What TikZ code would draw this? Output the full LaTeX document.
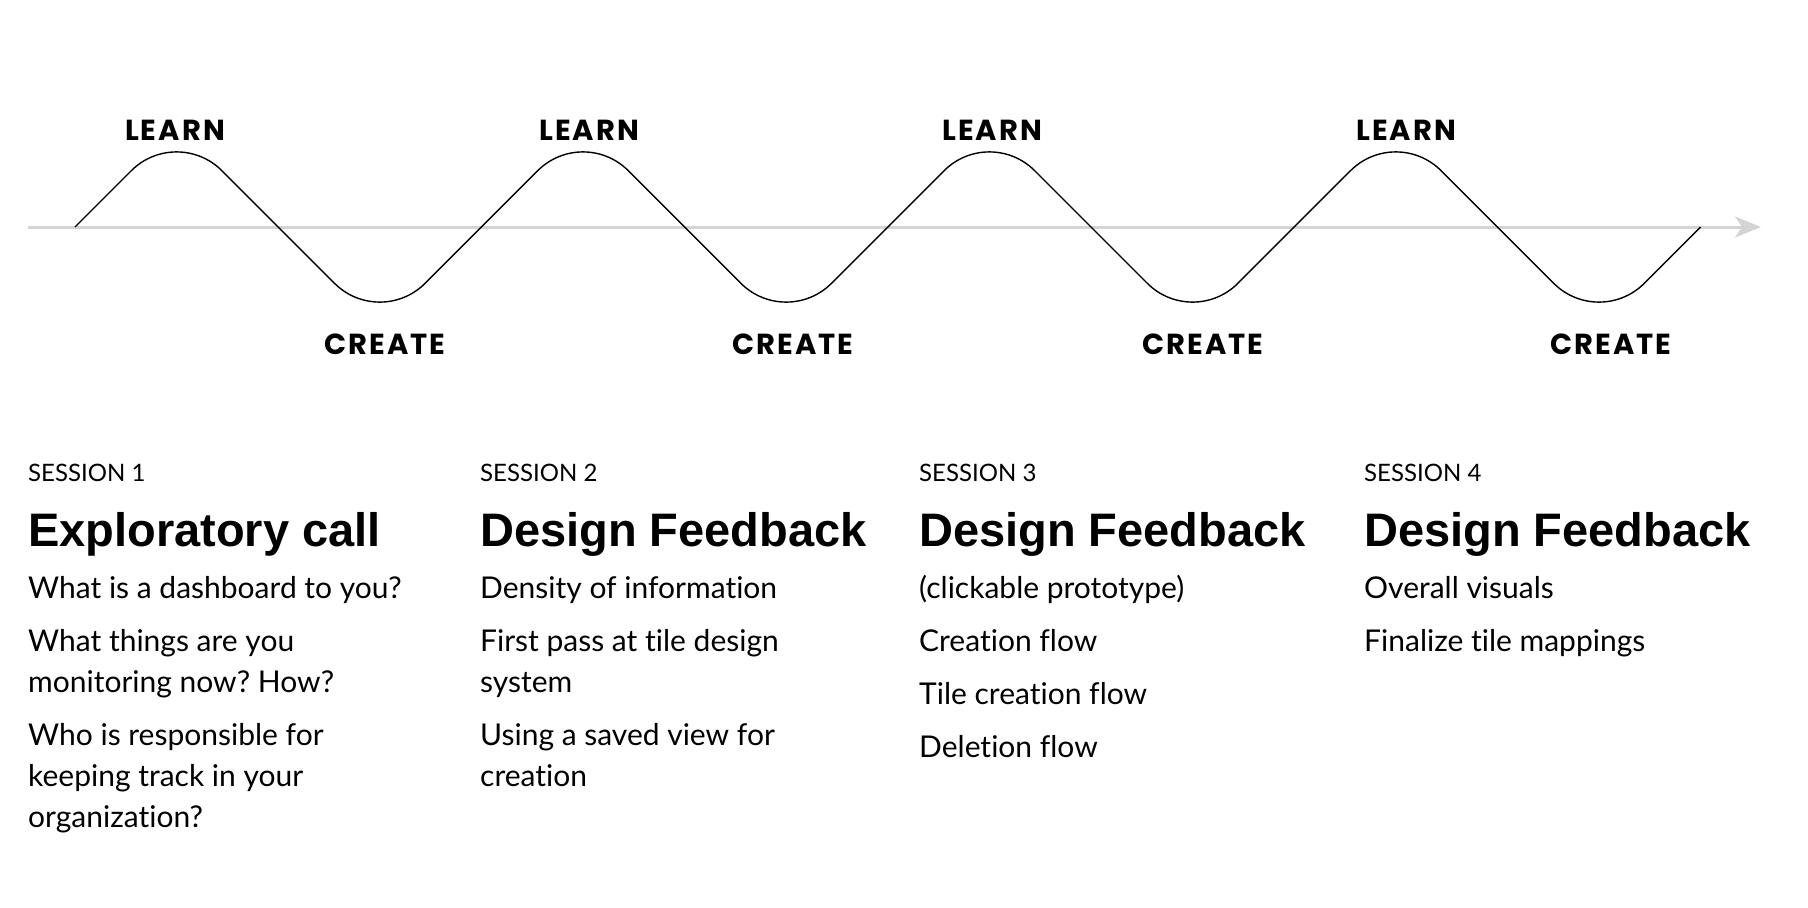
\documentclass[tikz,border=0pt]{standalone}
\usepackage{fontspec}
\setmainfont{Lato}[Ligatures=NoCommon]
\newfontfamily\wavefont{Poppins}[LetterSpace=7]
\newfontfamily\headfont{Liberation Sans}
\usepackage{tikz}
\usetikzlibrary{arrows.meta,positioning,calc}
\definecolor{axisgray}{HTML}{D4D4D4}
\frenchspacing

\begin{document}
\begin{tikzpicture}[x=1pt, y=-1pt,
    wave/.style={line width=1.4pt, black, rounded corners=64pt},
    axis/.style={line width=3pt, axisgray, -{Stealth[length=26pt, width=21pt, inset=7pt]}},
    phase/.style={font=\wavefont\bfseries\fontsize{29}{32}\selectfont, inner sep=0pt, anchor=base},
    session/.style={font=\fontsize{24}{28}\selectfont, inner sep=0pt, anchor=base west},
    headline/.style={font=\headfont\bfseries\fontsize{47}{50}\selectfont, inner sep=0pt, anchor=base west},
    body/.style={font=\fontsize{30}{41}\selectfont, inner sep=0pt, align=left, anchor=north west}
]
\useasboundingbox (0,0) rectangle (1808,908);

\coordinate (axisstart) at (28,227);
\coordinate (axisend) at (1761,227);
\coordinate (wavestart) at (75,227);
\draw[axis] (axisstart) -- (axisend);
\draw[wave] (wavestart) -- ++(101.6,-101.6)
  \foreach \k in {1,...,3} { -- ++(203.2,203.2) -- ++(203.2,-203.2) }
  -- ++(203.2,203.2) -- ++(101.6,-101.6) coordinate (waveend);

\foreach \x [count=\i] in {175,589,992,1406}
  \node[phase] (learn\i) at (\x,140) {LEARN};
\foreach \x [count=\i] in {385,793,1203,1611}
  \node[phase] (create\i) at (\x,354) {CREATE};

\node[session] (sess1) at (28,481) {SESSION 1};
\node[headline] (head1) at ($(sess1.base west)+(0,65)$) {Exploratory call};
\node[body] (body1) at ($(head1.base west)+(0,23.3)$) {\strut What is a dashboard to you?\\[12pt]
  What things are you\\monitoring now? How?\\[12pt]
  Who is responsible for\\keeping track in your\\organization?};

\node[session] (sess2) at (480,481) {SESSION 2};
\node[headline] (head2) at ($(sess2.base west)+(0,65)$) {Design Feedback};
\node[body] (body2) at ($(head2.base west)+(0,23.3)$) {\strut Density of information\\[12pt]
  First pass at tile design\\system\\[12pt]
  Using a saved view for\\creation};

\node[session] (sess3) at (919,481) {SESSION 3};
\node[headline] (head3) at ($(sess3.base west)+(0,65)$) {Design Feedback};
\node[body] (body3) at ($(head3.base west)+(0,23.3)$) {\strut (clickable prototype)\\[12pt]
  Creation flow\\[12pt]
  Tile creation flow\\[12pt]
  Deletion flow};

\node[session] (sess4) at (1364,481) {SESSION 4};
\node[headline] (head4) at ($(sess4.base west)+(0,65)$) {Design Feedback};
\node[body] (body4) at ($(head4.base west)+(0,23.3)$) {\strut Overall visuals\\[12pt]
  Finalize tile mappings};
\end{tikzpicture}
\end{document}
